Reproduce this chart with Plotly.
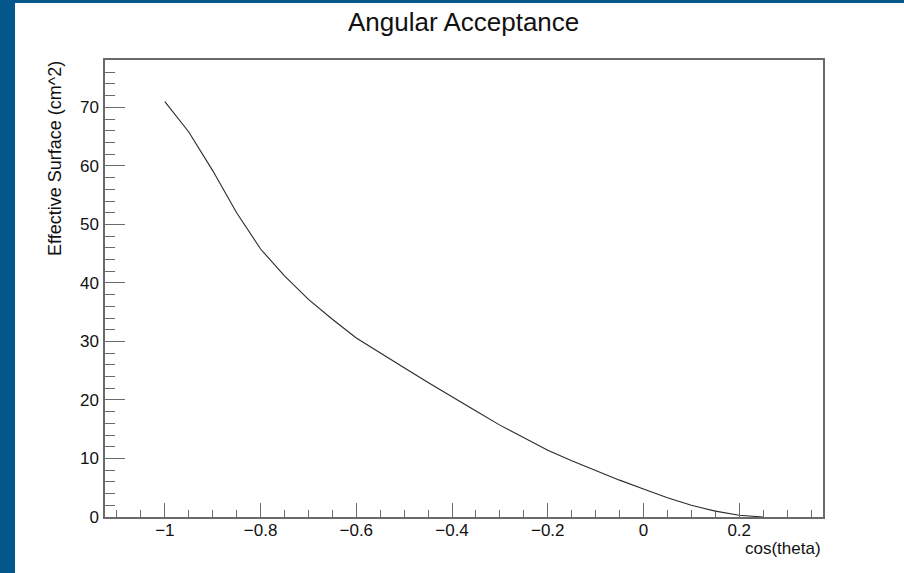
import plotly.graph_objects as go

# Effective surface versus cos(theta)
cos_theta = [-1.00, -0.95, -0.90, -0.85, -0.80, -0.75, -0.70, -0.65, -0.60, -0.55,
             -0.50, -0.45, -0.40, -0.35, -0.30, -0.25, -0.20, -0.15, -0.10, -0.05,
             0.00, 0.05, 0.10, 0.15, 0.20, 0.25]
surface = [71.0, 65.8, 59.2, 52.0, 45.8, 41.2, 37.2, 33.8, 30.6, 28.0,
           25.5, 23.0, 20.5, 18.1, 15.7, 13.5, 11.4, 9.6, 7.9, 6.3,
           4.8, 3.3, 2.0, 1.0, 0.3, 0.0]

x_ticks = [-1.0, -0.8, -0.6, -0.4, -0.2, 0.0, 0.2]
y_ticks = [0, 10, 20, 30, 40, 50, 60, 70]

W, H = 904, 573
L, R, T, B = 105, 823, 60, 517          # frame edges in pixels
pw, ph = R - L, B - T

def px(xp):
    return (xp - L) / pw

def py(yp):
    return (B - yp) / ph

FONT = "Liberation Sans, Arial, Helvetica, sans-serif"
AXCOL = "#6a6a6a"
BLUE = "#03578a"

fig = go.Figure()
fig.add_trace(go.Scatter(
    x=cos_theta, y=surface, mode="lines",
    line=dict(color="#2a2a2a", width=1.1),
    showlegend=False, hoverinfo="x+y",
))

fig.update_layout(
    width=W, height=H,
    margin=dict(l=L, r=W - R, t=T, b=H - B),
    paper_bgcolor="white", plot_bgcolor="white",
    font=dict(family=FONT, color="#111111", size=17),
    xaxis=dict(
        range=[-1.125, 0.375], tickvals=x_ticks,
        ticks="inside", ticklen=14, tickwidth=1, tickcolor=AXCOL,
        minor=dict(dtick=0.05, tick0=0, ticks="inside", ticklen=7, tickcolor=AXCOL, tickwidth=1),
        showline=True, linecolor=AXCOL, linewidth=1.5, mirror=True,
        showgrid=False, zeroline=False, tickfont=dict(size=17),
        ticklabelstandoff=-3,
    ),
    yaxis=dict(
        range=[0, 78.1], tickvals=y_ticks,
        ticks="inside", ticklen=20, tickwidth=1, tickcolor=AXCOL,
        minor=dict(dtick=2, tick0=0, ticks="inside", ticklen=10, tickcolor=AXCOL, tickwidth=1),
        showline=True, linecolor=AXCOL, linewidth=1.5, mirror=True,
        showgrid=False, zeroline=False, tickfont=dict(size=17),
        ticklabelstandoff=1,
    ),
)

# canvas border strips
fig.add_shape(type="rect", xref="paper", yref="paper", layer="above",
              x0=px(0), x1=px(15), y0=py(H), y1=py(0),
              fillcolor=BLUE, line=dict(width=0))
fig.add_shape(type="rect", xref="paper", yref="paper", layer="above",
              x0=px(0), x1=px(W), y0=py(3), y1=py(0),
              fillcolor=BLUE, line=dict(width=0))

fig.add_annotation(text="Angular Acceptance", xref="paper", yref="paper",
                   x=px(463), y=py(22), xanchor="center", yanchor="middle",
                   showarrow=False, font=dict(size=26, family=FONT, color="#111111"))
fig.add_annotation(text="Effective Surface (cm^2)", xref="paper", yref="paper",
                   x=px(55), y=py(159), xanchor="center", yanchor="middle",
                   textangle=-90, showarrow=False,
                   font=dict(size=18, family=FONT, color="#111111"))
fig.add_annotation(text="cos(theta)", xref="paper", yref="paper",
                   x=1.0, y=py(548), xanchor="right", yanchor="middle",
                   showarrow=False, font=dict(size=17, family=FONT, color="#111111"))

fig.write_html("out.html")
